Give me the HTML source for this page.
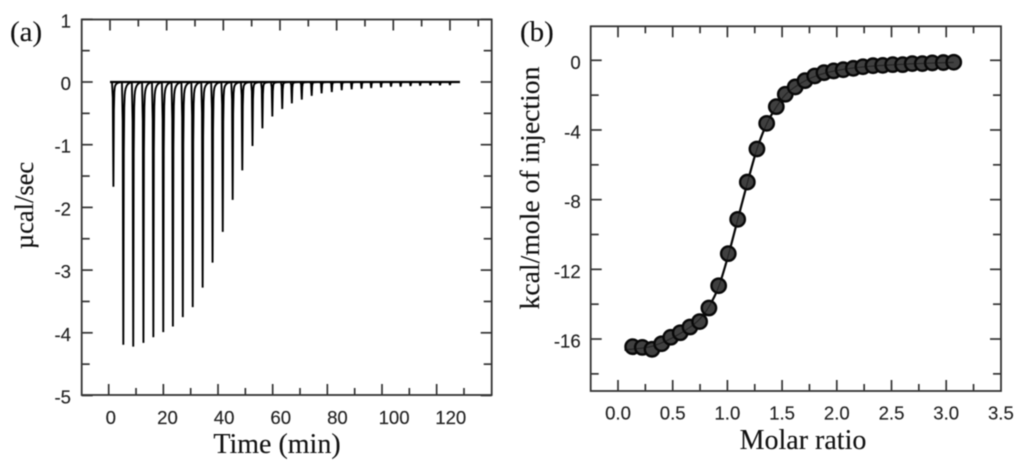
<!DOCTYPE html>
<html>
<head>
<meta charset="utf-8">
<style>
html,body{margin:0;padding:0;background:#fff;width:1024px;height:462px;overflow:hidden}
svg{display:block;filter:blur(0.5px)}
.tick{font-family:"Liberation Sans",sans-serif;font-size:18.6px;fill:#222;stroke:#222;stroke-width:0.15px}
.title{font-family:"Liberation Serif",serif;fill:#111;stroke:#111;stroke-width:0.12px}
</style>
</head>
<body>
<svg id="chart" width="1024" height="462" viewBox="0 0 1024 462" xmlns="http://www.w3.org/2000/svg">
<rect width="1024" height="462" fill="#fff"/>
<g id="panel-a">
<rect x="81.7" y="19.5" width="410" height="375.5" fill="none" stroke="#333" stroke-width="1.8"/>
<g id="a-axes"></g>
<path id="a-baseline" fill="none" stroke="#000" stroke-width="2.2"/>
<path id="a-trace" fill="none" stroke="#000" stroke-width="1.9" stroke-linejoin="bevel"/>
<text class="title" x="10" y="41" font-size="29">(a)</text>
<text class="title" x="277" y="453" font-size="28" text-anchor="middle">Time (min)</text>
<text class="title" transform="translate(33,205.5) rotate(-90)" font-size="26.5" text-anchor="middle">µcal/sec</text>
</g>
<g id="panel-b">
<rect x="590.7" y="26.3" width="410.3" height="364.7" fill="none" stroke="#333" stroke-width="1.8"/>
<g id="b-axes"></g>
<path id="b-fit" fill="none" stroke="#000" stroke-width="2.2"/>
<g id="b-points"></g>
<path id="b-fit-over" fill="none" stroke="#111" stroke-width="1.2" opacity="0.6"/>
<text class="title" x="520" y="41" font-size="29">(b)</text>
<text class="title" x="803" y="449" font-size="28" text-anchor="middle">Molar ratio</text>
<text class="title" transform="translate(539,188) rotate(-90)" font-size="27.7" text-anchor="middle">kcal/mole of injection</text>
</g>
</svg>
<script>
// Panel (a) data
const peakTimes = [1.2,4.7,8.2,11.8,15.3,18.8,22.2,25.7,29.2,32.7,36.2,39.8,43.3,46.7,50.3,53.8,57.3,60.8,64.2,67.7,71.2,74.7,78.3,81.8,85.3,88.8,92.2,95.7,99.2,102.6,106.1,109.5,113.1,116.5,120.0];
const peakDepths = [-1.67,-4.19,-4.22,-4.16,-4.07,-3.99,-3.90,-3.75,-3.59,-3.28,-2.88,-2.39,-1.88,-1.41,-1.02,-0.74,-0.55,-0.43,-0.34,-0.28,-0.22,-0.18,-0.16,-0.13,-0.117,-0.106,-0.096,-0.085,-0.074,-0.074,-0.064,-0.058,-0.053,-0.053,-0.048];
const traceStart = 0;
const traceEnd = 123.5;
const aXLabels = [0,20,40,60,80,100,120];
const aXTicks = [0,10,20,30,40,50,60,70,80,90,100,110,120,130];
const aYLabels = [1,0,-1,-2,-3,-4,-5];
const aYMinor = [0.5,-0.5,-1.5,-2.5,-3.5,-4.5];

// Panel (b) data
const ratios = [0.134,0.222,0.311,0.399,0.482,0.569,0.658,0.746,0.831,0.920,1.008,1.094,1.182,1.270,1.359,1.447,1.529,1.620,1.709,1.798,1.883,1.971,2.059,2.151,2.239,2.331,2.420,2.511,2.602,2.690,2.782,2.873,2.974,3.069];
const heats = [-16.44,-16.48,-16.59,-16.27,-15.90,-15.64,-15.31,-15.00,-14.22,-12.94,-11.10,-9.13,-6.99,-5.09,-3.62,-2.66,-1.95,-1.53,-1.17,-0.90,-0.71,-0.61,-0.54,-0.46,-0.37,-0.31,-0.29,-0.25,-0.25,-0.19,-0.19,-0.15,-0.13,-0.11];
const fitRatios = [0.06,0.134,0.222,0.311,0.399,0.482,0.569,0.658,0.746,0.831,0.920,1.008,1.094,1.182,1.270,1.359,1.447,1.529,1.620,1.709,1.798,1.883,1.971,2.059,2.151,2.239,2.331,2.420,2.511,2.602,2.690,2.782,2.873,2.974,3.069];
const fitHeats = [-16.62,-16.58,-16.52,-16.42,-16.22,-15.98,-15.68,-15.32,-14.86,-14.15,-13.0,-11.2,-9.15,-7.05,-5.1,-3.65,-2.68,-1.98,-1.52,-1.18,-0.93,-0.75,-0.62,-0.52,-0.44,-0.38,-0.33,-0.29,-0.26,-0.23,-0.2,-0.18,-0.16,-0.14,-0.12];
const bXLabels = ["0.0","0.5","1.0","1.5","2.0","2.5","3.0","3.5"];
const bXMinor = [0.25,0.75,1.25,1.75,2.25,2.75,3.25];
const bYLabels = [0,-4,-8,-12,-16];
const bYMinor = [-2,-6,-10,-14,-18];

const NS = 'http://www.w3.org/2000/svg';
const ax = v => 110 + 2.833 * v;          // data & labels / top ticks, panel a
const axBottom = v => 108.7 + 2.733 * v;  // bottom ticks of panel a
const ay = v => 82 - 62.7 * v;
const bx = v => 618 + 109.4 * v;
const by = v => 60.3 - 17.42 * v;

function line(parent, x1, y1, x2, y2) {
  const el = document.createElementNS(NS, 'line');
  
  
  el.setAttribute('x1', x1); el.setAttribute('y1', y1);
  el.setAttribute('x2', x2); el.setAttribute('y2', y2);
  el.setAttribute('stroke', '#333');
  el.setAttribute('stroke-width', '1.7');
  parent.appendChild(el);
}
function label(parent, x, y, str, anchor) {
  const el = document.createElementNS(NS, 'text');
  
  
  el.setAttribute('class', 'tick');
  el.setAttribute('x', x); el.setAttribute('y', y);
  el.setAttribute('text-anchor', anchor);
  el.textContent = str;
  parent.appendChild(el);
}

// Panel a axes
const gA = document.getElementById('a-axes');
aXTicks.forEach((v, i) => {
  const len = i % 2 === 0 ? 11 : 7;
  line(gA, ax(v), 19.5, ax(v), 19.5 + len);
  line(gA, axBottom(v), 395, axBottom(v), 395 - len);
});
aXLabels.forEach(v => label(gA, ax(v) + 0.8, 424, String(v), 'middle'));
aYLabels.forEach(v => {
  line(gA, 81.7, ay(v), 92.7, ay(v));
  line(gA, 491.7, ay(v), 480.7, ay(v));
  label(gA, 71, ay(v) + 8, String(v), 'end');
});
aYMinor.forEach(v => {
  line(gA, 81.7, ay(v), 89.7, ay(v));
  line(gA, 491.7, ay(v), 483.7, ay(v));
});

// Panel a trace
document.getElementById('a-baseline').setAttribute('d',
  'M' + ax(traceStart) + ' ' + ay(0) + 'L' + ax(traceEnd) + ' ' + ay(0));
let trace = 'M' + ax(traceStart) + ' ' + ay(0);
peakTimes.forEach((t, i) => {
  const d = peakDepths[i];
  const tip = ax(t);
  trace += 'L' + (tip - 1.4) + ' ' + ay(0);
  trace += 'L' + (tip - 0.6) + ' ' + ay(d * 0.15);
  trace += 'L' + tip + ' ' + ay(d);
  for (let k = 1; k <= 16; k++) {
    const dx = k * 0.45;
    const f = 0.92 * Math.exp(-dx / 0.3) + 0.08 * Math.exp(-dx / 2);
    trace += 'L' + (tip + dx) + ' ' + ay(d * f);
  }
  trace += 'L' + (tip + 7.6) + ' ' + ay(0);
});
trace += 'L' + ax(traceEnd) + ' ' + ay(0);
document.getElementById('a-trace').setAttribute('d', trace);

// Panel b axes
const gB = document.getElementById('b-axes');
bXLabels.forEach(s => {
  const v = parseFloat(s);
  if (v < 3.5) {
    line(gB, bx(v), 26.3, bx(v), 37.3);
    line(gB, bx(v), 391, bx(v), 380);
  }
  label(gB, bx(v), 419.5, s, 'middle');
});
bXMinor.forEach(v => {
  line(gB, bx(v), 26.3, bx(v), 33.3);
  line(gB, bx(v), 391, bx(v), 384);
});
bYLabels.forEach(v => {
  line(gB, 590.7, by(v), 601.7, by(v));
  line(gB, 1001, by(v), 990, by(v));
  label(gB, 580.7, by(v) + 8.5, String(v), 'end');
});
bYMinor.forEach(v => {
  line(gB, 590.7, by(v), 598.7, by(v));
  line(gB, 1001, by(v), 993, by(v));
});

// Panel b fit curve (smooth through the fit arrays)
function smooth(xs, ys) {
  const p = xs.map((x, i) => [bx(x), by(ys[i])]);
  let d = 'M' + p[0][0] + ' ' + p[0][1];
  for (let i = 0; i < p.length - 1; i++) {
    const a = p[Math.max(i - 1, 0)], b = p[i], c = p[i + 1], e = p[Math.min(i + 2, p.length - 1)];
    d += 'C' + (b[0] + (c[0] - a[0]) / 6) + ' ' + (b[1] + (c[1] - a[1]) / 6) + ' ' +
         (c[0] - (e[0] - b[0]) / 6) + ' ' + (c[1] - (e[1] - b[1]) / 6) + ' ' + c[0] + ' ' + c[1];
  }
  return d;
}
const fitPath = smooth(fitRatios, fitHeats);
document.getElementById('b-fit').setAttribute('d', fitPath);
document.getElementById('b-fit-over').setAttribute('d', fitPath);

// Panel b points
const gP = document.getElementById('b-points');
ratios.forEach((r, i) => {
  const c = document.createElementNS(NS, 'circle');
  
  
  c.setAttribute('cx', bx(r));
  c.setAttribute('cy', by(heats[i]));
  c.setAttribute('r', '7.2');
  c.setAttribute('fill', '#404040');
  c.setAttribute('stroke', '#080808');
  c.setAttribute('stroke-width', '2.4');
  gP.appendChild(c);
});
</script>
</body>
</html>
